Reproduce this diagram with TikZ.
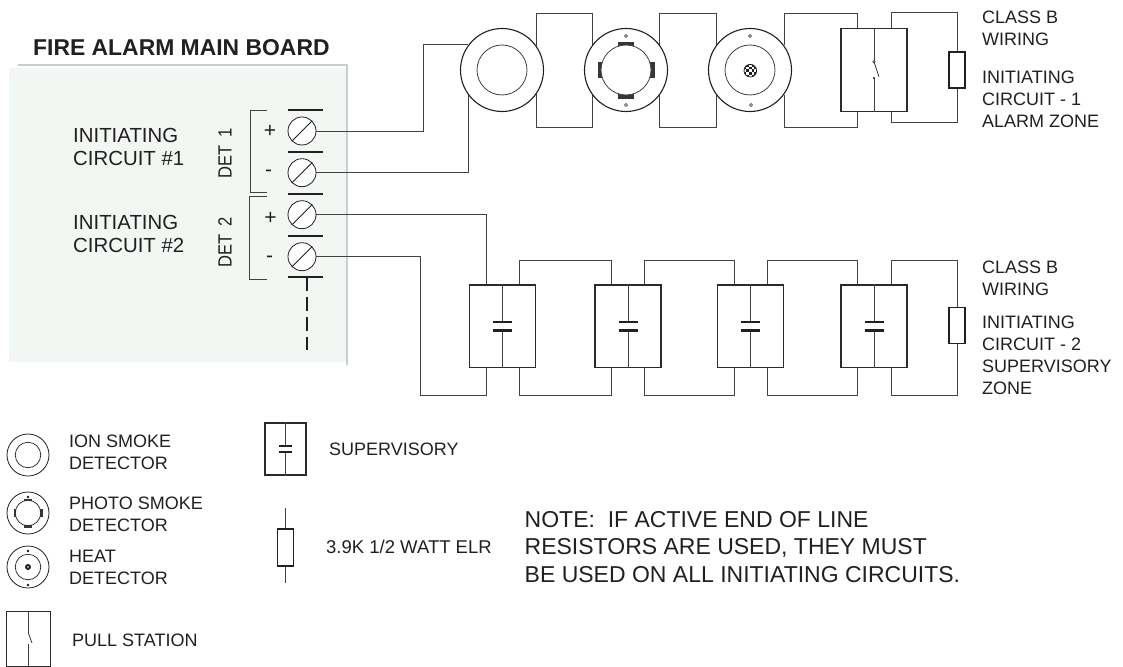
\documentclass[tikz,border=0pt]{standalone}
\usepackage{fontspec}
\setmainfont{Liberation Sans}
\usetikzlibrary{calc,backgrounds}
\definecolor{ink}{HTML}{231F20}
\definecolor{panel}{HTML}{F3F7F4}
\definecolor{shadegray}{HTML}{C9CDCD}
\tikzset{
  wire/.style={draw=ink!85,line width=0.9pt},
  termbar/.style={draw=ink,line width=1.1pt},
  brack/.style={draw=ink!85,line width=0.8pt},
  devbox/.style={draw=ink!95,line width=1.2pt,fill=white,rectangle,inner sep=0pt,minimum width=66pt,minimum height=82.5pt},
  elr/.style={draw=ink,line width=1.1pt,fill=white,rectangle,inner sep=0pt,minimum width=16pt,minimum height=36pt},
  outer/.style={draw=ink,line width=1.1pt,fill=white,circle,inner sep=0pt,minimum size=83pt},
  inner/.style={draw=ink!85,line width=0.8pt,fill=white,circle,inner sep=0pt,minimum size=50pt},
  smallouter/.style={draw=ink,line width=0.8pt,fill=white,circle,inner sep=0pt,minimum size=42pt},
  smallinner/.style={draw=ink,line width=0.7pt,fill=white,circle,inner sep=0pt,minimum size=25.5pt},
  screw/.style={draw=ink,line width=0.8pt,fill=white,circle,inner sep=0pt,minimum size=28pt},
  lbl/.style={inner sep=0pt,text=ink,font=\fontsize{18}{22}\selectfont,align=left,anchor=west},
  biglbl/.style={inner sep=0pt,text=ink,font=\fontsize{20.4}{23}\selectfont,align=left,anchor=west},
  title/.style={inner sep=0pt,text=ink,font=\bfseries\fontsize{22.9}{26}\selectfont,anchor=west},
  notelbl/.style={inner sep=0pt,text=ink,font=\fontsize{23}{27.5}\selectfont,align=left,anchor=west},
  signlbl/.style={inner sep=0pt,text=ink,font=\fontsize{21}{22}\selectfont,anchor=center},
  plate/.style={draw=ink,line width=2.4pt},
  pin/.style={draw=ink,line width=0.6pt,fill=white,circle,inner sep=0pt,minimum size=3pt},
  lugfill/.style={fill=ink!90,draw=none}
}
% diagonal of a screw terminal
\newcommand{\slotline}[1]{\draw[draw=ink,line width=0.9pt] (#1.225) -- (#1.45);}
% capacitor device: centre line and plates; #1 half width, #2 half gap, #3 node
\newcommand{\capdev}[3]{%
  \draw[wire] (#3.north) -- ($(#3.center)+(0,-#2)$);
  \draw[wire] (#3.south) -- ($(#3.center)+(0,#2)$);
  \draw[plate] ($(#3.center)+(-#1,-#2)$) -- ($(#3.center)+(#1,-#2)$);
  \draw[plate] ($(#3.center)+(-#1,#2)$) -- ($(#3.center)+(#1,#2)$);
}
\begin{document}
\begin{tikzpicture}[x=1pt,y=-1pt]
\useasboundingbox (0,0) rectangle (1123,666);

% ---- main board panel coordinates
\coordinate (pA) at (9,68);
\coordinate (pB) at (346,361.5);
\coordinate (sA) at (18,65);
\coordinate (sB) at (347,65);
\coordinate (sC) at (347,365);

% ---- devices, top row
\node[outer] (c1) at (502,70) {};
\node[outer] (c2) at (626,70) {};
\node[outer] (c3) at (750,70) {};
\node[devbox] (pull) at (874,70) {};
\node[elr] (rA) at (957,70) {};

% ---- devices, bottom row
\node[devbox] (sb1) at (502.5,326.3) {};
\node[devbox] (sb2) at (628,326.3) {};
\node[devbox] (sb3) at (750.5,326.3) {};
\node[devbox] (sb4) at (874,326.3) {};
\node[elr] (rB) at (957,325.5) {};

% ---- screw terminals
\node[screw] (s1) at (302,131) {};
\node[screw] (s2) at (302,172.7) {};
\node[screw] (s3) at (302,214.7) {};
\node[screw] (s4) at (302,256.7) {};
\foreach \s in {s1,s2,s3,s4} {\slotline{\s}}
\foreach \y in {110,152,194,236} {
  \coordinate (ba) at (288,\y); \coordinate (bb) at (323,\y);
  \draw[termbar] (ba) -- (bb);
}
\coordinate (be) at (288,277); \coordinate (bf) at (323,277);
\draw[termbar,line width=1.8pt] (be) -- (bf);
\coordinate (d0) at (307,277);
\coordinate (d1) at (307,350);
\draw[draw=ink,line width=2pt,dash pattern=on 13.5pt off 6.5pt] (d0) -- (d1);

% brackets
\coordinate (k1a) at (267,110); \coordinate (k1b) at (250,110);
\coordinate (k1c) at (250,192.7); \coordinate (k1d) at (267,192.7);
\draw[brack] (k1a) -- (k1b) -- (k1c) -- (k1d);
\coordinate (k2a) at (266.5,196.7); \coordinate (k2b) at (249,196.7);
\coordinate (k2c) at (249,279); \coordinate (k2d) at (266.5,279);
\draw[brack] (k2a) -- (k2b) -- (k2c) -- (k2d);

\begin{scope}[on background layer]
  \fill[panel] (pA) rectangle (pB);
  \draw[shadegray,line width=2pt] (sA) -- (sB) -- (sC);
  % field wiring, top
  \coordinate (j1) at (423,131);
  \draw[wire] (s1.east) -- (j1) |- (c1.143);
  \draw[wire] (s2.east) -| (c1.217);
  \draw[wire] (c1.35) -- ++(0,-32.7) -| (c2.143);
  \draw[wire] (c1.-35) -- ++(0,33.2) -| (c2.-143);
  \draw[wire] (c2.37) -- ++(0,-31.5) -| (c3.143);
  \draw[wire] (c2.-37) -- ++(0,32) -| (c3.-143);
  \draw[wire] (c3.36) -- ++(0,-32.1) -| ($(pull.north)+(-16.5,0)$);
  \draw[wire] (c3.-36) -- ++(0,32.6) -| ($(pull.south)+(-16.5,0)$);
  \draw[wire] ($(pull.north)+(17,0)$) -- ++(0,-15.3) -| (rA.north);
  \draw[wire] ($(pull.south)+(17,0)$) -- ++(0,11) -| (rA.south);
  % field wiring, bottom
  \coordinate (j4) at (420,256.7);
  \draw[wire] (s3.east) -| ($(sb1.north)+(-16.5,0)$);
  \draw[wire] (s4.east) -- (j4) -- ++(0,138.3) -| ($(sb1.south)+(-16.5,0)$);
  \draw[wire] ($(sb1.north)+(16.5,0)$) -- ++(0,-24) -| ($(sb2.north)+(-16.5,0)$);
  \draw[wire] ($(sb1.south)+(16.5,0)$) -- ++(0,27.5) -| ($(sb2.south)+(-16.5,0)$);
  \draw[wire] ($(sb2.north)+(16.5,0)$) -- ++(0,-24) -| ($(sb3.north)+(-16.5,0)$);
  \draw[wire] ($(sb2.south)+(16.5,0)$) -- ++(0,27.5) -| ($(sb3.south)+(-16.5,0)$);
  \draw[wire] ($(sb3.north)+(16.5,0)$) -- ++(0,-24) -| ($(sb4.north)+(-16.5,0)$);
  \draw[wire] ($(sb3.south)+(16.5,0)$) -- ++(0,27.5) -| ($(sb4.south)+(-16.5,0)$);
  \draw[wire] ($(sb4.north)+(17,0)$) -- ++(0,-24) -| (rB.north);
  \draw[wire] ($(sb4.south)+(17,0)$) -- ++(0,27.5) -| (rB.south);
\end{scope}

% ---- device details
\node[inner] (c1i) at (c1) {};
% photo detector
\foreach \a/\b/\cx/\cy in {16.5/5.5/626/44.5, 16.5/5.5/626/96, 5.5/16.5/600.5/70, 5.5/16.5/652.5/70}{
  \coordinate (lg) at (\cx,\cy);
  \fill[lugfill] ($(lg)+(-\a/2,-\b/2)$) rectangle ($(lg)+(\a/2,\b/2)$);
}
\node[inner] (c2i) at (c2) {};
\node[pin] (c2p) at (626,36) {};
\node[pin] (c2q) at (626,105) {};
% heat detector
\node[inner] (c3i) at (c3) {};
\node[pin] (c3p) at (750,36) {};
\node[pin] (c3q) at (751,105) {};
\coordinate (hd) at (750.3,70.7);
\begin{scope}
  \clip (hd) circle (6.3pt);
  \fill[ink] ($(hd)+(-7,-7)$) rectangle ($(hd)+(7,7)$);
  \foreach \i in {-3,...,3}{\foreach \j in {-3,...,3}{
    \pgfmathparse{int(mod(\i+\j+6,2))}
    \ifnum\pgfmathresult=0
      \fill[white] ($(hd)+(\i*2.6-1.3,\j*2.6-1.3)$) rectangle ++(2.6,2.6);
    \fi
  }}
\end{scope}
\draw[ink,line width=0.8pt] (hd) circle (6.3pt);

% pull switch (top)
\coordinate (pa) at ($(pull.center)+(0,-8.3)$);
\coordinate (pb) at ($(pull.center)+(0,8)$);
\coordinate (pc) at ($(pull.center)+(5,6.7)$);
\draw[wire] (pull.north) -- (pa);
\draw[wire] (pb) -- (pull.south);
\draw[draw=ink,line width=0.7pt] (pa) -- (pc);
\node[pin,minimum size=2.5pt] (pp) at (pa) {};
\fill[ink] (pb) circle (1.2pt);

\foreach \b in {sb1,sb2,sb3,sb4} {\capdev{9.5}{4.2}{\b}}

% ---- legend symbols
\node[smallouter] (l1) at (28,455) {};
\node[smallinner] (l1i) at (l1) {};
\node[smallouter] (l2) at (28,513) {};
\coordinate (l2t) at (28,500); \coordinate (l2b) at (28,526);
\coordinate (l2l) at (15,513); \coordinate (l2r) at (41,513);
\fill[lugfill] ($(l2t)+(-4,-1.5)$) rectangle ($(l2t)+(4,1.5)$);
\fill[lugfill] ($(l2b)+(-4,-1.5)$) rectangle ($(l2b)+(4,1.5)$);
\fill[lugfill] ($(l2l)+(-1.5,-4)$) rectangle ($(l2l)+(1.5,4)$);
\fill[lugfill] ($(l2r)+(-1.5,-4)$) rectangle ($(l2r)+(1.5,4)$);
\node[smallinner] (l2i) at (l2) {};
\node[pin,minimum size=2pt,fill=ink] (l2p) at (28,497) {};
\node[smallouter] (l3) at (28,567) {};
\node[smallinner] (l3i) at (l3) {};
\node[pin,minimum size=2pt,fill=ink] (l3p) at (28,551) {};
\node[pin,minimum size=2pt,fill=ink] (l3q) at (28,585) {};
\fill[ink] (l3) circle (3pt);
\fill[white] (l3) circle (0.9pt);

\node[devbox,line width=1pt,minimum width=44pt,minimum height=55pt,anchor=north west] (l4) at (6,611) {};
\coordinate (l4a) at ($(l4.center)+(0,-5.5)$);
\coordinate (l4b) at ($(l4.center)+(0,5)$);
\coordinate (l4c) at ($(l4.center)+(3.5,4)$);
\draw[wire] (l4.north) -- (l4a);
\draw[wire] (l4b) -- (l4.south);
\draw[draw=ink,line width=0.7pt] (l4a) -- (l4c);

\node[devbox,minimum width=41pt,minimum height=52pt] (l5) at (285.5,449) {};
\capdev{6.5}{3}{l5}
\coordinate (l6t) at (285.5,508);
\coordinate (l6b) at (285.5,583);
\node[elr,minimum width=16.5pt,minimum height=37pt] (l6) at (285.5,547.5) {};
\draw[wire] (l6t) -- (l6.north);
\draw[wire] (l6.south) -- (l6b);

% ---- texts
\node[title] (tTitle) at (33,48) {FIRE ALARM MAIN BOARD};
\node[biglbl] (t1) at (73,146.5) {INITIATING\\CIRCUIT \#1};
\node[biglbl] (t2) at (73,233.5) {INITIATING\\CIRCUIT \#2};
\node[lbl,rotate=90,anchor=center] (dt1) at (225,153.5) {\scalebox{.92}[1.06]{DET\hspace{8pt}1}};
\node[lbl,rotate=90,anchor=center] (dt2) at (225,242.5) {\scalebox{.92}[1.06]{DET\hspace{8pt}2}};
\node[signlbl] (p1) at (270,131.5) {+};
\node[signlbl] (m1) at (268.5,173.5) {-};
\node[signlbl] (p2) at (270.5,218) {+};
\node[signlbl] (m2) at (269.5,259.5) {-};
\node[lbl] (tc1) at (982,28) {CLASS B\\WIRING};
\node[lbl] (tc2) at (982,99.5) {INITIATING\\CIRCUIT - 1\\ALARM ZONE};
\node[lbl] (tc3) at (982,278) {CLASS B\\WIRING};
\node[lbl] (tc4) at (982,355) {INITIATING\\CIRCUIT - 2\\SUPERVISORY\\ZONE};
\node[lbl] (tl1) at (69,452.5) {ION SMOKE\\DETECTOR};
\node[lbl] (tl2) at (69,514) {PHOTO SMOKE\\DETECTOR};
\node[lbl] (tl3) at (69,567.5) {HEAT\\DETECTOR};
\node[lbl] (tl4) at (72,640) {PULL STATION};
\node[lbl] (tl5) at (329,449) {SUPERVISORY};
\node[lbl,font=\fontsize{18.5}{22}\selectfont] (tl6) at (326,547) {3.9K 1/2 WATT ELR};
\node[notelbl] (tn) at (524.5,547) {NOTE:\ \ IF ACTIVE END OF LINE\\RESISTORS ARE USED, THEY MUST\\BE USED ON ALL INITIATING CIRCUITS.};
\end{tikzpicture}
\end{document}
